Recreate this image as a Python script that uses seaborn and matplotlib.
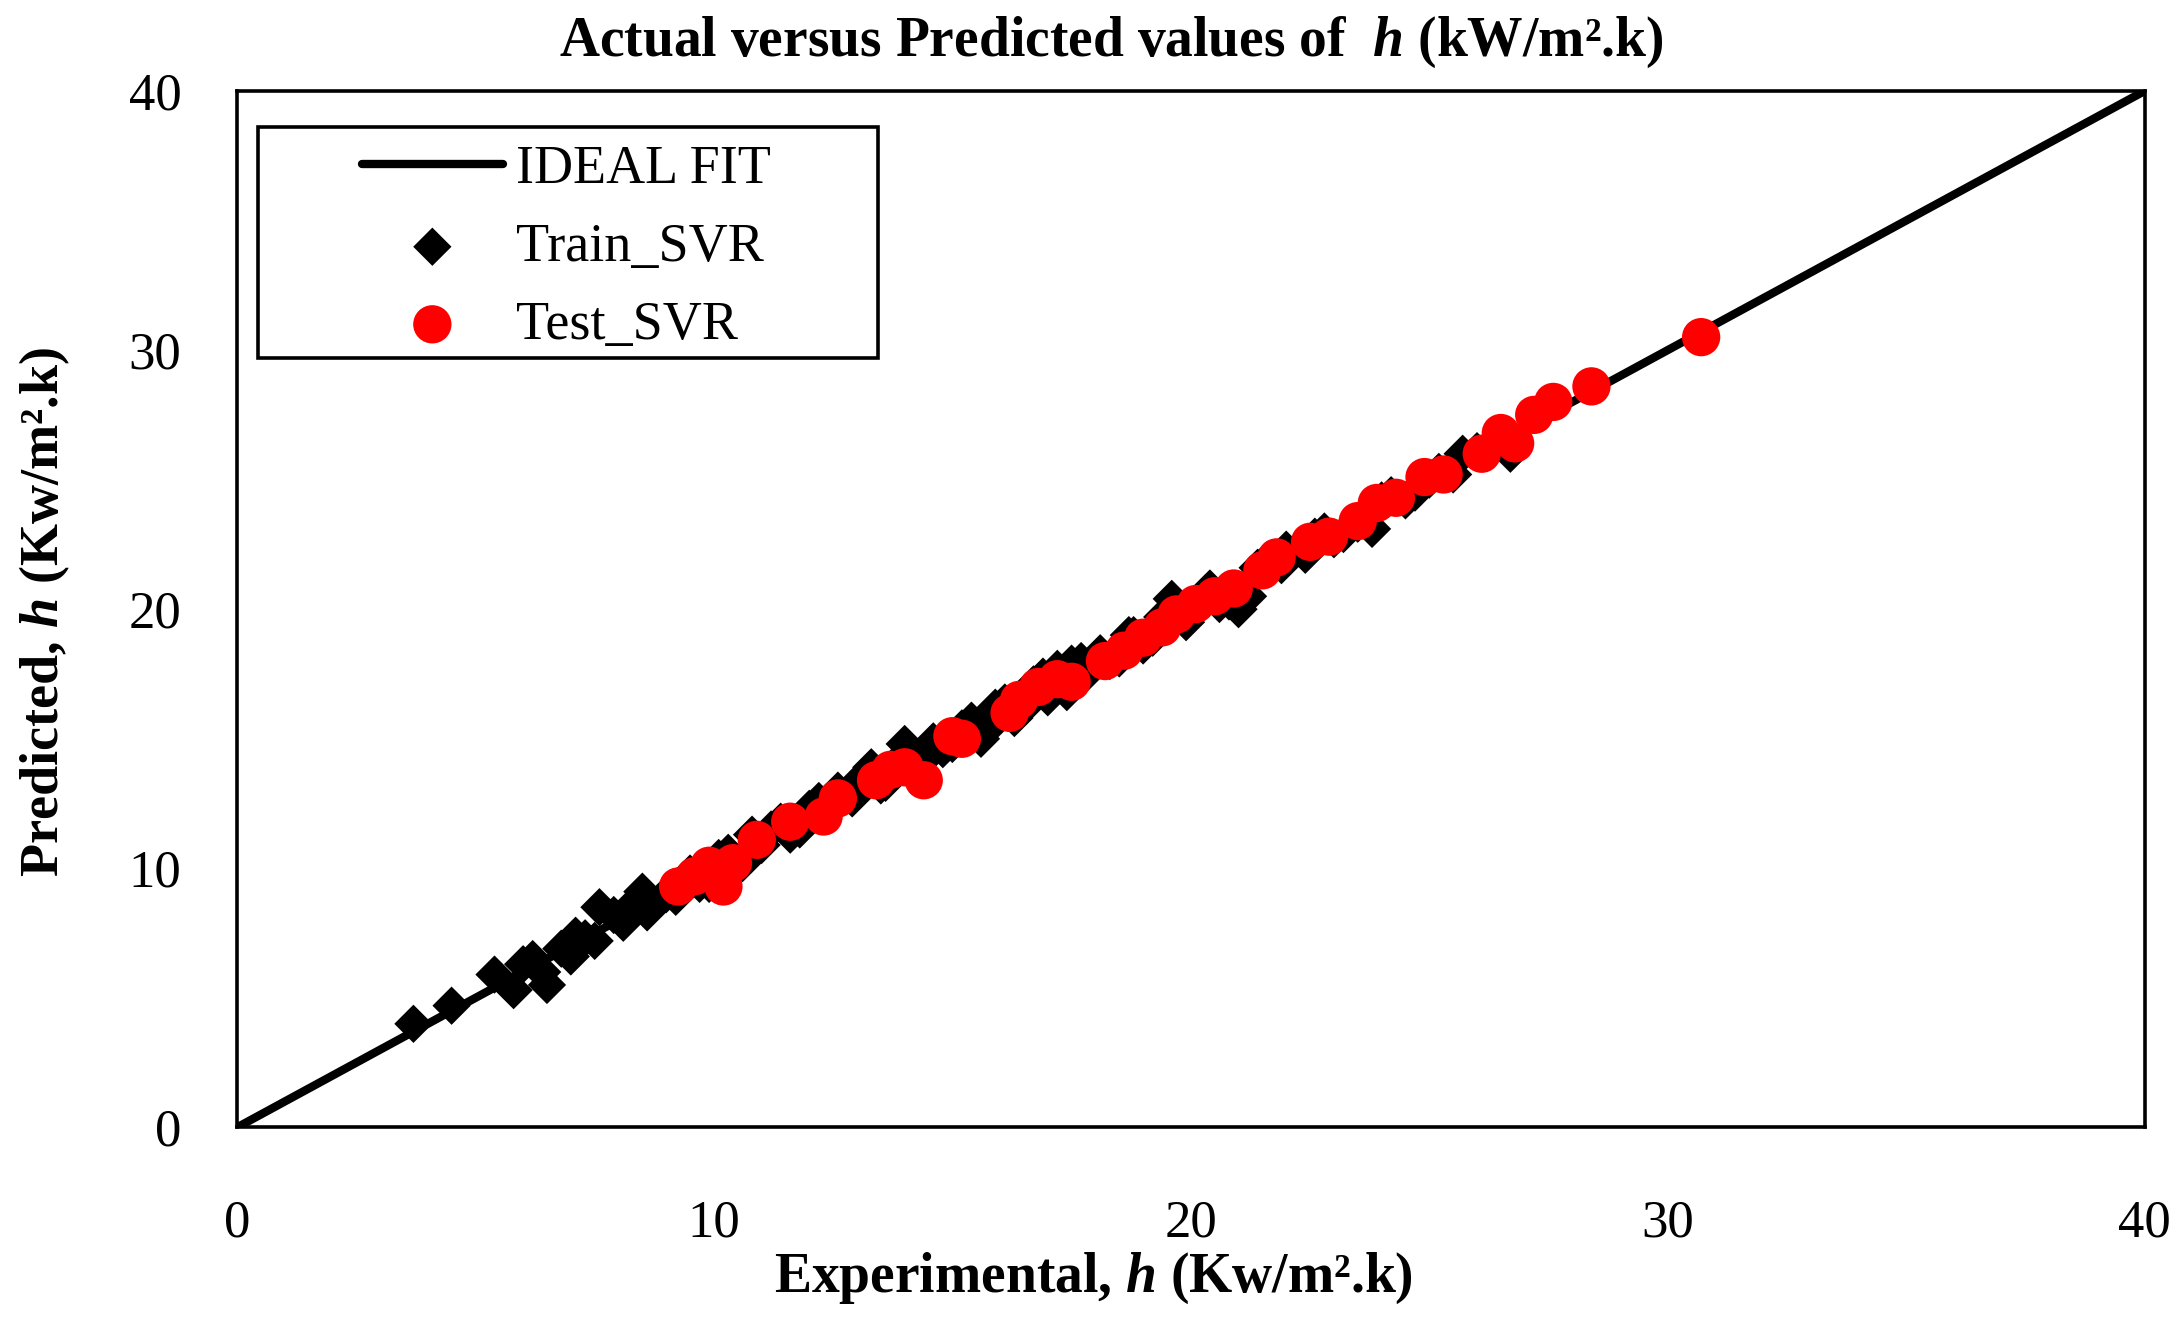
import numpy as np
import matplotlib
matplotlib.use("Agg")
import matplotlib.pyplot as plt
import seaborn as sns
from matplotlib.patches import Rectangle

# Data
ideal_x = [0, 40]
ideal_y = [0, 40]

train_exp = [3.7, 4.5, 5.4, 5.8, 6.2, 6.5, 6.8, 7.0, 7.3, 7.6, 7.9, 8.1, 8.5, 8.6,
             9.0, 9.5, 9.9, 10.3, 10.8, 11.0, 11.4, 11.8, 12.2, 12.6, 12.9, 13.3,
             13.6, 14.0, 14.4, 14.8, 15.2, 15.6, 15.9, 16.3, 16.7, 17.0, 17.2, 17.5,
             17.8, 18.1, 18.5, 18.8, 19.2, 19.6, 19.9, 20.3, 20.6, 21.0, 21.2, 21.6,
             22.0, 22.4, 22.8, 23.2, 23.8, 24.2, 24.7, 25.2, 25.7, 26.3, 26.7,
             6.0, 6.4, 7.1, 7.5, 8.3, 9.2, 9.7, 10.1, 10.6, 11.2, 11.6, 12.0, 12.4,
             13.0, 13.5, 13.9, 14.2, 14.6, 15.0, 15.4, 15.8, 16.1, 16.5, 16.9, 17.4,
             17.7, 18.3, 18.7, 19.0, 19.4, 20.0, 20.4, 20.8, 21.4, 21.9, 22.6, 23.0,
             23.5, 24.0, 24.5, 25.0, 25.5, 26.0]
train_pred = [4.0, 4.7, 5.9, 5.3, 6.5, 5.5, 6.9, 6.6, 7.3, 8.5, 8.2, 7.9, 9.1, 8.3,
              9.0, 9.8, 9.4, 10.6, 11.3, 10.9, 11.8, 11.5, 12.6, 13.0, 12.7, 13.9,
              13.3, 14.8, 14.2, 14.6, 15.4, 15.0, 16.2, 15.8, 17.1, 16.6, 17.7, 17.9,
              17.5, 18.3, 18.1, 19.0, 18.9, 20.4, 19.5, 20.6, 20.2, 20.0, 20.5, 21.9,
              22.3, 22.1, 23.0, 22.9, 23.1, 24.4, 24.5, 25.3, 26.0, 26.2, 26.0,
              6.3, 6.0, 7.4, 7.2, 8.6, 8.9, 9.4, 10.4, 10.2, 11.5, 11.3, 12.3, 12.2,
              13.3, 13.2, 14.2, 14.0, 14.9, 14.8, 15.7, 15.5, 16.4, 16.2, 17.4, 16.8,
              18.0, 18.0, 19.0, 18.6, 19.7, 19.8, 20.8, 20.3, 21.6, 21.7, 22.8, 22.7,
              23.3, 24.2, 24.2, 25.0, 25.2, 26.1]

test_exp = [9.25, 9.6, 9.9, 10.2, 10.4, 10.9, 11.6, 12.3, 12.6, 13.4, 13.7, 14.0,
            14.4, 15.0, 15.2, 16.2, 16.4, 16.8, 17.2, 17.5, 18.2, 18.6, 19.0, 19.4,
            19.7, 20.1, 20.5, 20.9, 21.5, 21.8, 22.5, 22.9, 23.5, 23.9, 24.3, 24.9,
            25.3, 26.1, 26.5, 26.8, 27.2, 27.6, 28.4, 30.7]
test_pred = [9.3, 9.7, 10.1, 9.3, 10.2, 11.1, 11.8, 12.0, 12.7, 13.4, 13.8, 13.9,
             13.4, 15.1, 15.0, 16.0, 16.5, 17.0, 17.3, 17.2, 18.0, 18.4, 18.9, 19.3,
             19.8, 20.2, 20.5, 20.8, 21.5, 22.0, 22.6, 22.8, 23.4, 24.1, 24.3, 25.1,
             25.2, 26.0, 26.8, 26.4, 27.5, 28.0, 28.6, 30.5]

tick_vals = [0, 10, 20, 30, 40]

sns.set_style("white")
plt.rcParams['font.family'] = ['Liberation Serif', 'DejaVu Serif']
plt.rcParams['mathtext.fontset'] = 'custom'
plt.rcParams['mathtext.it'] = 'Liberation Serif:italic:bold'
plt.rcParams['mathtext.rm'] = 'Liberation Serif:bold'
plt.rcParams['text.color'] = 'black'
plt.rcParams['axes.labelcolor'] = 'black'
plt.rcParams['xtick.color'] = 'black'
plt.rcParams['ytick.color'] = 'black'

fig = plt.figure(figsize=(21.84, 13.28), dpi=100)
ax = fig.add_axes([0.1085, 0.151, 0.8735, 0.7805])

sns.lineplot(x=ideal_x, y=ideal_y, ax=ax, color='black', linewidth=6,
             label='IDEAL FIT', zorder=1)
sns.scatterplot(x=train_exp, y=train_pred, ax=ax, marker='D', color='black',
                s=380, edgecolor='none', label='Train_SVR', zorder=2)
sns.scatterplot(x=test_exp, y=test_pred, ax=ax, marker='o', color='#ff0000',
                s=760, edgecolor='none', label='Test_SVR', zorder=3)

ax.set_xlim(0, 40)
ax.set_ylim(0, 40)
ax.set_xticks(tick_vals)
ax.set_yticks(tick_vals)
ax.tick_params(axis='x', length=0, pad=52, labelsize=38, labelcolor='black')
ax.tick_params(axis='y', length=0, pad=40, labelsize=38, labelcolor='black')
for sp in ax.spines.values():
    sp.set_color('black')
    sp.set_linewidth(2.6)

ax.set_xlabel('Experimental, $h$ (Kw/m²' + '.k)', fontsize=40, fontweight='bold',
              color='black')
ax.set_ylabel('Predicted, $h$ (Kw/m²' + '.k)', fontsize=39, fontweight='bold',
              color='black')
ax.xaxis.set_label_coords(0.449, -0.1456)
ax.xaxis.label.set_va('center')
ax.yaxis.set_label_coords(-0.1006, 0.497)
ax.yaxis.label.set_va('center')

fig.text(0.509, 0.968, 'Actual versus Predicted values of  $h$ (kW/m²' + '.k)',
         ha='center', va='center', fontsize=40, fontweight='bold', color='black')

leg = ax.legend(loc='upper left', bbox_to_anchor=(0.0655, 0.948), frameon=False,
                borderpad=0, borderaxespad=0, fontsize=39, handlelength=2.6,
                handletextpad=0.25, labelspacing=0.5, markerscale=1.0)
for t in leg.get_texts():
    t.set_color('black')
ax.add_patch(Rectangle((0.011, 0.7425), 0.325, 0.2225, transform=ax.transAxes,
                       fill=False, edgecolor='black', linewidth=2.6, zorder=5))

fig.savefig('out.png', dpi=100)
